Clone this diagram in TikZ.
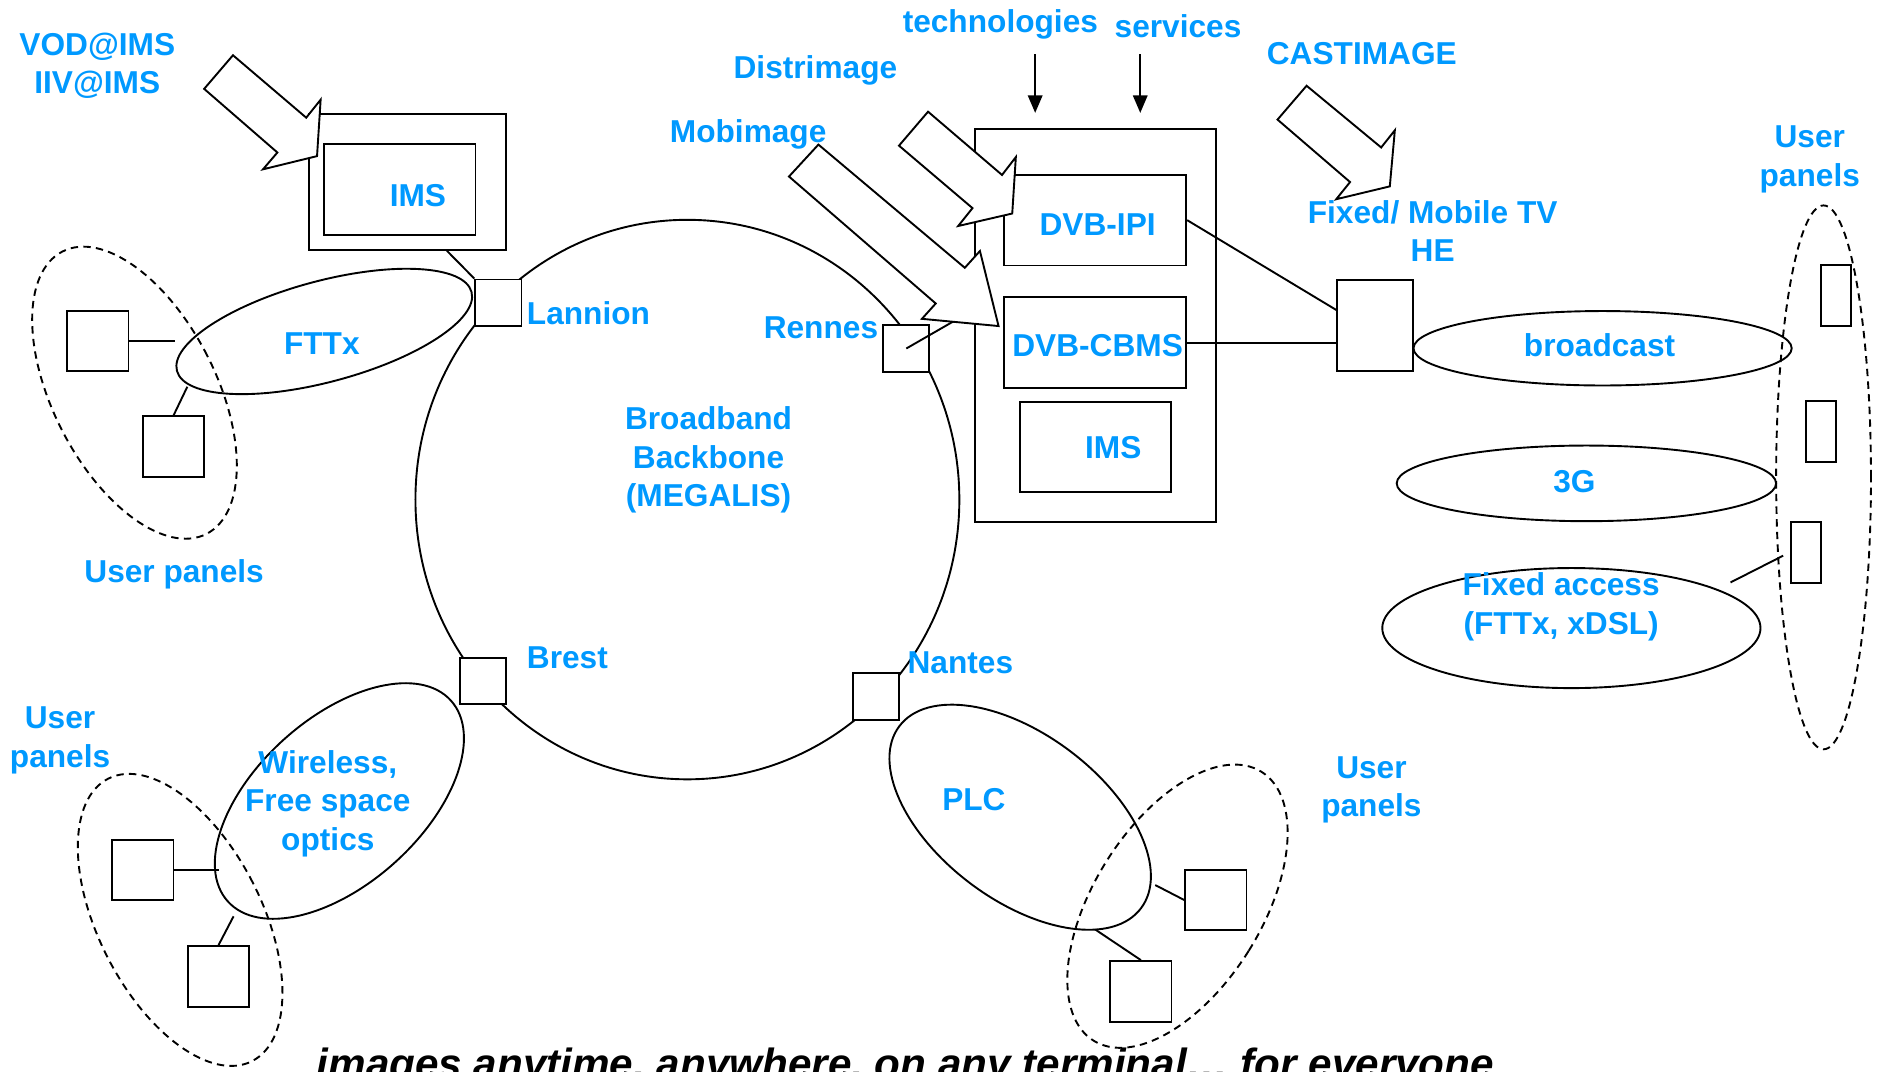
\documentclass[tikz,border=0pt]{standalone}
\usepackage{fontspec}
\setmainfont{Liberation Sans}
\usepackage{tikz}
\usetikzlibrary{arrows.meta, positioning, calc, shapes.geometric}
\definecolor{capblue}{RGB}{0,153,255}

\begin{document}
\begin{tikzpicture}[
    x=0.02cm, y=-0.02cm,
    font=\bfseries\fontsize{15}{18.2}\selectfont,
    line width=0.9pt,
    lbl/.style={text=capblue, inner sep=0pt, align=center},
    station/.style={draw, fill=white, minimum size=0.77cm, inner sep=0pt},
    terminal/.style={draw, fill=white, minimum width=1.02cm, minimum height=1.01cm, inner sep=0pt},
    handset/.style={draw, fill=white, minimum width=0.5cm, minimum height=1.01cm, inner sep=0pt},
    dvb/.style={draw, fill=white, minimum width=3.03cm, minimum height=1.51cm, inner sep=0pt},
    net/.style={draw, ellipse, inner sep=0pt},
    panel/.style={draw, dash pattern=on 3.5pt off 2.5pt},
    fatarrow/.style={draw, fill=white, line join=miter},
    arrow/.style={-{Triangle[length=0.29cm, width=0.24cm]}}
]
\useasboundingbox (0,0) rectangle (1568,892);

% backbone ring
\node[net, minimum width=9.06cm, minimum height=9.32cm] (ring) at (572.4,416) {};

% access networks and user panels
\node[net, minimum width=5.08cm, minimum height=1.68cm, rotate=15] (fttx) at (270,276) {};
\node[net, panel, minimum width=2.72cm, minimum height=5.28cm, rotate=27] (panelTL) at (112,327) {};
\node[net, minimum width=5cm, minimum height=2.76cm, rotate=42] (wless) at (282.6,667) {};
\node[net, panel, minimum width=2.72cm, minimum height=5.28cm, rotate=27] (panelBL) at (150,766) {};
\node[net, minimum width=5.04cm, minimum height=2.76cm, rotate=-37] (plc) at (849.5,680.5) {};
\node[net, panel, minimum width=2.8cm, minimum height=5.28cm, rotate=-32] (panelBR) at (980.5,754.6) {};
\node[net, minimum width=6.3cm, minimum height=1.24cm] (bcast) at (1334.5,290) {};
\node[net, minimum width=6.32cm, minimum height=1.26cm] (umts) at (1321,402.5) {};
\node[net, minimum width=6.3cm, minimum height=2cm] (fixacc) at (1308.5,523) {};
\node[net, panel, minimum width=1.58cm, minimum height=9.06cm] (panelR) at (1518.5,397.5) {};

% backbone stations
\node[station] (lannion) at (415,252) {};
\node[station] (rennes) at (754.7,290.2) {};
\node[station] (brest) at (402,567) {};
\node[station] (nantes) at (729.5,580) {};

% service platforms
\node[draw, fill=white, minimum width=3.28cm, minimum height=2.26cm] (imsout) at (339,151.5) {};
\node[draw, minimum width=2.52cm, minimum height=1.52cm] (imsin) at (333,158) {};
\node[draw, fill=white, minimum width=4.02cm, minimum height=6.54cm] (dvbout) at (912,271) {};
\node[dvb] (ipi) at (912,183.3) {};
\node[dvb, below=0.5cm of ipi] (cbms) {};
\node[draw, minimum width=2.52cm, minimum height=1.5cm, below=0.2cm of cbms] (ims2) {};
\node[draw, fill=white, minimum width=1.26cm, minimum height=1.52cm] (he) at (1145,271.3) {};

% user terminals
\node[terminal] (tl1) at (81.5,284) {};
\node[terminal] (tl2) at (144.5,372) {};
\node[terminal] (bl1) at (119,724.5) {};
\node[terminal] (bl2) at (182,813) {};
\node[terminal] (br1) at (1012.5,749.5) {};
\node[terminal] (br2) at (950,825.5) {};
\node[handset] (hs1) at (1529,246) {};
\node[handset] (hs2) at (1516.5,359.5) {};
\node[handset] (hs3) at (1503.5,460) {};

% loose ends of the links
\coordinate (tl1end) at (146,284);
\coordinate (tl2end) at (156,322);
\coordinate (bl1end) at (182,724.5);
\coordinate (bl2end) at (194.5,763);
\coordinate (br1end) at (962,737);
\coordinate (br2end) at (912,774);
\coordinate (fixend) at (1441,485);
\coordinate (rennesend) at (795,267);
\coordinate (techtop) at (862,45);
\coordinate (techbot) at (862,94);
\coordinate (servtop) at (949.5,45);
\coordinate (servbot) at (949.5,94);

\draw (tl1.east) -- (tl1end);
\draw (tl2.north) -- (tl2end);
\draw (bl1.east) -- (bl1end);
\draw (bl2.north) -- (bl2end);
\draw (br1end) -- (br1.west);
\draw (br2end) -- (br2.north);
\draw[shorten >=0.12cm] (fixend) -- (hs3.west);
\draw ($(imsout.south west)!0.7!(imsout.south east)$) -- (lannion.north west);
\draw (ipi.east) -- ($(he.north west)!0.33!(he.south west)$);
\draw (cbms.east) -- (cbms.east -| he.west);
\draw (rennes.center) -- (rennesend);
\draw[arrow] (techtop) -- (techbot);
\draw[arrow] (servtop) -- (servbot);

% project arrows
\draw[fatarrow] (170,74) -- (194,46) -- (255,98) -- (267,83) -- (264,130) -- (219,141) -- (231,127) -- cycle;
\draw[fatarrow] (748.6,121.3) -- (772.8,93) -- (834.4,145.7) -- (845.9,130.8) -- (842.9,177.8) -- (797.9,188.2) -- (809.8,173.3) -- cycle;
\draw[fatarrow] (657,147) -- (681.5,120.4) -- (803.4,223) -- (816,209) -- (831.5,271.5) -- (767.7,265.5) -- (779.2,252.7) -- cycle;
\draw[fatarrow] (1063.8,99.6) -- (1088,71.4) -- (1150.1,122.8) -- (1161.5,108.5) -- (1157.3,155.2) -- (1112.7,165.9) -- (1124.2,151.6) -- cycle;

% labels (multi-line ones sit on the baseline of their last line)
\node[lbl, anchor=base] (vod) at (81,78) {VOD@IMS\\IIV@IMS};
\node[lbl, anchor=base] (imsAT) at (348,172) {IMS};
\node[lbl, anchor=base west] (lannionT) at (438,270) {Lannion};
\node[lbl, anchor=base] (fttxT) at (268,295) {FTTx};
\node[lbl, anchor=base] (upTL) at (145,485) {User panels};
\node[lbl, anchor=base east] (rennesT) at (732,282) {Rennes};
\node[lbl, anchor=base] (ringT) at (590,422) {Broadband\\Backbone\\(MEGALIS)};
\node[lbl, anchor=base] (distri) at (679,65) {Distrimage};
\node[lbl, anchor=base] (mobi) at (623,119) {Mobimage};
\node[lbl, anchor=base] (tech) at (833,27) {technologies};
\node[lbl, anchor=base] (serv) at (981,31) {services};
\node[lbl, anchor=base] (cast) at (1134,54) {CASTIMAGE};
\node[lbl, anchor=base] (ipiT) at (914,196) {DVB-IPI};
\node[lbl, anchor=base] (cbmsT) at (914,297) {DVB-CBMS};
\node[lbl, anchor=base] (ims2T) at (927,382) {IMS};
\node[lbl, anchor=base] (heT) at (1193,218) {Fixed/ Mobile TV\\HE};
\node[lbl, anchor=base] (bcastT) at (1332,297) {broadcast};
\node[lbl, anchor=base] (umtsT) at (1311,410) {3G};
\node[lbl, anchor=base] (fixT) at (1300,528) {Fixed access\\(FTTx, xDSL)};
\node[lbl, anchor=base] (upR) at (1507,155) {User\\panels};
\node[lbl, anchor=base west] (brestT) at (438,557) {Brest};
\node[lbl, anchor=base west] (nantesT) at (755,561) {Nantes};
\node[lbl, anchor=base] (plcT) at (811,675) {PLC};
\node[lbl, anchor=base] (upBR) at (1142,680) {User\\panels};
\node[lbl, anchor=base] (upBL) at (50,639) {User\\panels};
\node[lbl, anchor=base] (wlessT) at (273,708) {Wireless,\\Free space\\optics};
\node[anchor=base west, inner sep=0pt, font=\bfseries\itshape\fontsize{20}{24}\selectfont] (slogan) at (263,898) {images anytime, anywhere, on any terminal… for everyone};
\end{tikzpicture}
\end{document}
